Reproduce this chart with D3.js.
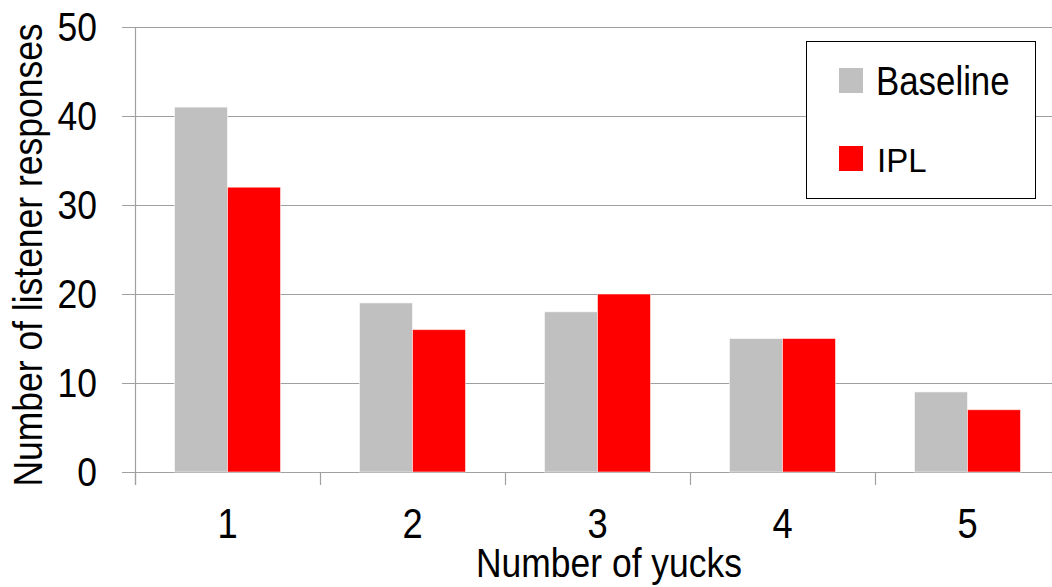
<!DOCTYPE html>
<html>
<head>
<meta charset="utf-8">
<script src="https://cdn.jsdelivr.net/npm/d3@7"></script>
<style>
  html, body { margin: 0; padding: 0; background: #fff; }
  text { font-family: "Liberation Sans Narrow", "Liberation Sans", Arial, sans-serif; fill: #000; }
</style>
</head>
<body>
<svg id="chart" width="1052" height="587"></svg>
<script>
// Listener responses per number of yucks
const categories = ["1", "2", "3", "4", "5"];
const seriesNames = ["Baseline", "IPL"];
const baseline = [41, 19, 18, 15, 9];
const ipl = [32, 16, 20, 15, 7];
const yTicks = [0, 10, 20, 30, 40, 50];
const seriesColors = ["#c0c0c0", "#ff0000"];

const svg = d3.select("#chart");
const plotLeft = 135, plotRight = 1060, plotTop = 27, plotBottom = 472;
const narrow = 0.865; // horizontal squeeze for the condensed label face

const x = d3.scaleBand().domain(categories).range([plotLeft, plotRight]).paddingInner(0).paddingOuter(0);
const xs = d3.scaleBand().domain(seriesNames).range([0, x.bandwidth()]).paddingInner(0).paddingOuter(0.745);
const y = d3.scaleLinear().domain([0, 50]).range([plotBottom, plotTop]);

const gridColor = "#a0a0a0";

// horizontal gridlines with short outside ticks
svg.append("g").selectAll("line").data(yTicks).join("line")
  .attr("x1", 122).attr("x2", 1052)
  .attr("y1", d => Math.round(y(d)) + 0.5).attr("y2", d => Math.round(y(d)) + 0.5)
  .attr("stroke", gridColor).attr("stroke-width", 1.2);

// vertical axis line
svg.append("line")
  .attr("x1", plotLeft + 0.5).attr("x2", plotLeft + 0.5)
  .attr("y1", plotTop).attr("y2", plotBottom + 13)
  .attr("stroke", gridColor).attr("stroke-width", 1.2);

// category boundary ticks below the baseline
const boundaries = categories.map(c => x(c)).concat([x(categories[categories.length - 1]) + x.bandwidth()]);
svg.append("g").selectAll("line").data(boundaries).join("line")
  .attr("x1", d => Math.round(d) + 0.5).attr("x2", d => Math.round(d) + 0.5)
  .attr("y1", plotBottom).attr("y2", plotBottom + 13)
  .attr("stroke", gridColor).attr("stroke-width", 1.2);

// bars
const rows = categories.map((c, i) => ({ c, vals: [baseline[i], ipl[i]] }));
const groups = svg.append("g").selectAll("g").data(rows).join("g")
  .attr("transform", d => `translate(${x(d.c)},0)`);
groups.selectAll("rect").data(d => d.vals.map((v, j) => ({ v, s: seriesNames[j], j }))).join("rect")
  .attr("x", d => xs(d.s))
  .attr("width", xs.bandwidth())
  .attr("y", d => y(d.v))
  .attr("height", d => y(0) - y(d.v))
  .attr("fill", d => seriesColors[d.j])
  .attr("stroke", "#ffffff").attr("stroke-opacity", 0.55).attr("stroke-width", 1);

// y tick labels
svg.append("g").selectAll("text").data(yTicks).join("text")
  .attr("transform", d => `translate(97,${y(d) + 14}) scale(${narrow},1)`)
  .attr("text-anchor", "end")
  .attr("font-size", 41)
  .text(d => d);

// x tick labels
svg.append("g").selectAll("text").data(categories).join("text")
  .attr("transform", d => `translate(${x(d) + x.bandwidth() / 2},538) scale(${narrow},1)`)
  .attr("text-anchor", "middle")
  .attr("font-size", 42)
  .text(d => d);

// axis titles
svg.append("text")
  .attr("transform", `translate(609,577) scale(${narrow},1)`)
  .attr("text-anchor", "middle")
  .attr("font-size", 41)
  .text("Number of yucks");

svg.append("text")
  .attr("transform", `translate(42,255) rotate(-90) scale(${narrow},1)`)
  .attr("text-anchor", "middle")
  .attr("font-size", 41)
  .text("Number of listener responses");

// legend
const lg = svg.append("g");
lg.append("rect").attr("x", 806.5).attr("y", 41.5).attr("width", 229).attr("height", 157)
  .attr("fill", "#fff").attr("stroke", "#000").attr("stroke-width", 1);
const items = lg.selectAll("g").data(seriesNames).join("g")
  .attr("transform", (d, i) => `translate(839,${68 + i * 78})`);
items.append("rect").attr("width", 24).attr("height", 25)
  .attr("fill", (d, i) => seriesColors[i]);
items.append("text")
  .attr("transform", (d, i) => i === 0 ? `translate(37,27) scale(0.85,1)` : `translate(38,26)`)
  .attr("font-size", (d, i) => i === 0 ? 41 : 33)
  .text(d => d);
</script>
</body>
</html>
